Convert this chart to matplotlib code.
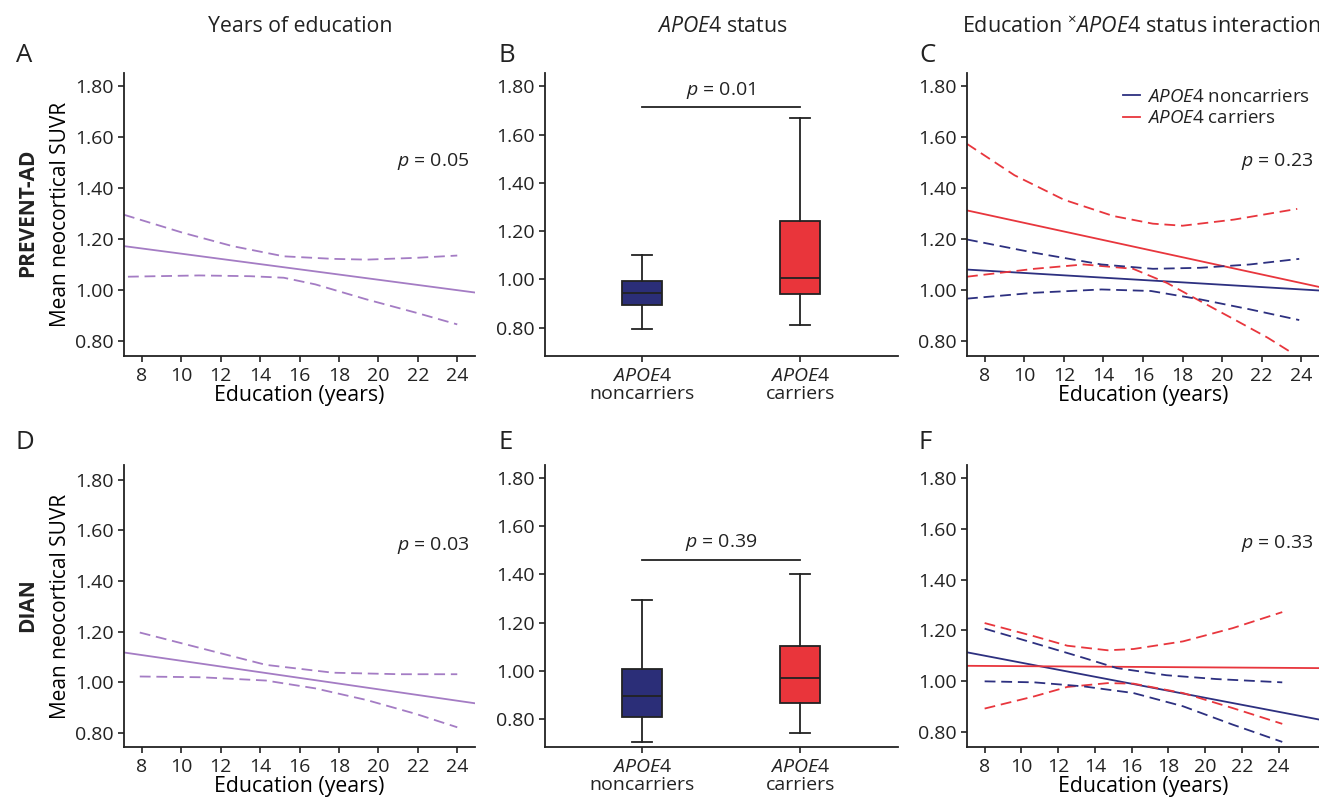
import matplotlib
matplotlib.use("Agg")
import matplotlib.pyplot as plt

plt.rcParams['font.family'] = ['Open Sans', 'DejaVu Sans']
plt.rcParams['mathtext.fontset'] = 'custom'
plt.rcParams['mathtext.rm'] = 'Open Sans'
plt.rcParams['mathtext.it'] = 'Open Sans:italic'
plt.rcParams['text.color'] = '#222222'
plt.rcParams['axes.edgecolor'] = '#222222'
plt.rcParams['xtick.color'] = '#222222'
plt.rcParams['ytick.color'] = '#222222'

PURPLE = '#a47cc4'
NAVY = '#2d3080'
RED = '#e8363d'
NAVY_FILL = '#2b2e78'
RED_FILL = '#e9353b'

# ---- data ----
groups = ['$\\mathit{APOE}$4\nnoncarriers', '$\\mathit{APOE}$4\ncarriers']
yticks = [0.80, 1.00, 1.20, 1.40, 1.60, 1.80]
xticks = [8, 10, 12, 14, 16, 18, 20, 22, 24]

# A: PREVENT-AD, education
a_fit_x = [7.1, 24.9]
a_fit_y = [1.172, 0.990]
a_hi_x = [7.1, 10.1, 12.6, 15.2, 17.7, 19.4, 21.9, 24.0]
a_hi_y = [1.295, 1.224, 1.172, 1.132, 1.122, 1.119, 1.126, 1.135]
a_lo_x = [7.3, 10.9, 13.5, 15.2, 16.8, 19.4, 21.9, 24.0]
a_lo_y = [1.052, 1.057, 1.054, 1.048, 1.022, 0.963, 0.911, 0.865]

# B: PREVENT-AD, APOE4 boxes (whislo, q1, med, q3, whishi)
b_non = [0.793, 0.894, 0.942, 0.994, 1.100]
b_car = [0.811, 0.939, 1.005, 1.243, 1.669]

# C: PREVENT-AD, interaction
c_non_fit_x = [7.1, 24.9]
c_non_fit_y = [1.080, 0.998]
c_car_fit_x = [7.1, 24.9]
c_car_fit_y = [1.312, 1.012]
c_car_hi_x = [7.1, 9.5, 12.0, 14.5, 16.5, 18.0, 20.6, 23.8]
c_car_hi_y = [1.573, 1.450, 1.354, 1.290, 1.260, 1.252, 1.276, 1.318]
c_car_lo_x = [7.1, 10.5, 13.0, 15.5, 17.2, 18.9, 20.6, 22.3, 23.6]
c_car_lo_y = [1.052, 1.083, 1.100, 1.083, 1.028, 0.956, 0.885, 0.813, 0.750]
c_non_hi_x = [7.1, 10.5, 13.9, 16.5, 18.9, 21.4, 23.9]
c_non_hi_y = [1.198, 1.146, 1.100, 1.083, 1.087, 1.100, 1.122]
c_non_lo_x = [7.1, 10.5, 13.9, 16.4, 18.9, 21.4, 23.9]
c_non_lo_y = [0.966, 0.989, 1.002, 0.996, 0.963, 0.924, 0.882]

# D: DIAN, education
d_fit_x = [7.1, 24.9]
d_fit_y = [1.117, 0.916]
d_hi_x = [7.9, 11.0, 14.3, 17.7, 21.1, 24.0]
d_hi_y = [1.196, 1.134, 1.068, 1.037, 1.031, 1.031]
d_lo_x = [7.9, 11.0, 14.3, 16.8, 19.4, 21.9, 24.0]
d_lo_y = [1.022, 1.019, 1.006, 0.975, 0.929, 0.874, 0.821]

# E: DIAN, APOE4 boxes
e_non = [0.705, 0.808, 0.894, 1.007, 1.292]
e_car = [0.742, 0.866, 0.970, 1.104, 1.400]

# F: DIAN, interaction
f_non_fit_x = [7.04, 26.2]
f_non_fit_y = [1.114, 0.850]
f_car_fit_x = [7.04, 26.2]
f_car_fit_y = [1.061, 1.052]
f_car_hi_x = [8.0, 10.7, 12.5, 14.7, 16.1, 18.8, 21.5, 24.2]
f_car_hi_y = [1.229, 1.177, 1.140, 1.122, 1.127, 1.157, 1.209, 1.272]
f_car_lo_x = [8.0, 10.7, 12.5, 14.7, 16.1, 18.8, 21.5, 24.2]
f_car_lo_y = [0.893, 0.941, 0.978, 0.993, 0.991, 0.954, 0.895, 0.833]
f_non_hi_x = [8.0, 10.7, 13.4, 15.2, 17.9, 20.6, 24.2]
f_non_hi_y = [1.207, 1.150, 1.092, 1.052, 1.024, 1.009, 0.996]
f_non_lo_x = [8.0, 10.7, 13.4, 16.1, 18.8, 21.5, 24.2]
f_non_lo_y = [1.000, 0.996, 0.980, 0.954, 0.902, 0.830, 0.762]

p_vals = {'A': '0.05', 'B': '0.01', 'C': '0.23', 'D': '0.03', 'E': '0.39', 'F': '0.33'}
bracket_y = {'B': 1.713, 'E': 1.461}

W, H = 1319, 799
fig = plt.figure(figsize=(W / 100, H / 100), dpi=100)


def px_axes(left, right, top, bottom):
    return fig.add_axes([left / W, 1 - bottom / H, (right - left) / W, (bottom - top) / H])


def style(ax, ylim):
    ax.spines['top'].set_visible(False)
    ax.spines['right'].set_visible(False)
    ax.spines['left'].set_linewidth(1.3)
    ax.spines['bottom'].set_linewidth(1.3)
    ax.set_ylim(*ylim)
    ax.set_yticks(yticks)
    ax.set_yticklabels(['%.2f' % v for v in yticks])
    ax.tick_params(labelsize=14, length=4.3, width=1.2, pad=3.3)


def dashed(ax, x, y, c):
    ax.plot(x, y, color=c, lw=1.3, dashes=(6, 3.2))


def box(ax, non, car):
    stats = []
    for s, lab in zip([non, car], groups):
        stats.append(dict(whislo=s[0], q1=s[1], med=s[2], q3=s[3], whishi=s[4], label=lab))
    bp = ax.bxp(stats, positions=[1, 2], widths=0.25, capwidths=0.13, showfliers=False,
                patch_artist=True,
                boxprops=dict(linewidth=1.3, edgecolor='#222222'),
                medianprops=dict(color='#222222', linewidth=1.3),
                whiskerprops=dict(color='#222222', linewidth=1.3),
                capprops=dict(color='#222222', linewidth=1.3))
    for patch, c in zip(bp['boxes'], [NAVY_FILL, RED_FILL]):
        patch.set_facecolor(c)
    ax.set_xlim(0.385, 2.62)


def bracket(ax, key):
    yb = bracket_y[key]
    ax.plot([1, 2], [yb, yb], color='#222222', lw=1.3)
    ax.text(1.5, yb + 0.07, '$\\mathit{p}$ = ' + p_vals[key], ha='center', va='center', fontsize=14)


def ptext(ax, val, yfrac):
    ax.text(0.983, yfrac, '$\\mathit{p}$ = ' + val, transform=ax.transAxes,
            ha='right', va='center', fontsize=14)


line_ylim = (0.741, 1.851)
box_ylim = (0.683, 1.855)

# ---- top row ----
axA = px_axes(124, 475, 73, 356)
axA.plot(a_fit_x, a_fit_y, color=PURPLE, lw=1.3)
dashed(axA, a_hi_x, a_hi_y, PURPLE)
dashed(axA, a_lo_x, a_lo_y, PURPLE)
axA.set_xlim(7.1, 24.9)
axA.set_xticks(xticks)
style(axA, line_ylim)
axA.set_xlabel('Education (years)', fontsize=15.3, labelpad=0)
axA.set_ylabel('Mean neocortical SUVR', fontsize=15, labelpad=3)
ptext(axA, p_vals['A'], 0.689)

axB = px_axes(545, 898, 73, 356)
box(axB, b_non, b_car)
style(axB, box_ylim)
for t in axB.get_xticklabels():
    t.set_linespacing(1.0)
bracket(axB, 'B')

axC = px_axes(967, 1319, 73, 356)
axC.plot(c_non_fit_x, c_non_fit_y, color=NAVY, lw=1.3, label='$\\mathit{APOE}$4 noncarriers')
axC.plot(c_car_fit_x, c_car_fit_y, color=RED, lw=1.3, label='$\\mathit{APOE}$4 carriers')
dashed(axC, c_car_hi_x, c_car_hi_y, RED)
dashed(axC, c_car_lo_x, c_car_lo_y, RED)
dashed(axC, c_non_hi_x, c_non_hi_y, NAVY)
dashed(axC, c_non_lo_x, c_non_lo_y, NAVY)
axC.set_xlim(7.1, 24.9)
axC.set_xticks(xticks)
style(axC, line_ylim)
axC.set_xlabel('Education (years)', fontsize=15.3, labelpad=0)
ptext(axC, p_vals['C'], 0.689)
axC.legend(loc='upper right', bbox_to_anchor=(0.995, 0.975), frameon=False, fontsize=13.5,
           handlelength=0.9, handletextpad=0.35, labelspacing=0.2, borderaxespad=0.2,
           borderpad=0.2)

# ---- bottom row ----
axD = px_axes(124, 475, 465, 747)
axD.plot(d_fit_x, d_fit_y, color=PURPLE, lw=1.3)
dashed(axD, d_hi_x, d_hi_y, PURPLE)
dashed(axD, d_lo_x, d_lo_y, PURPLE)
axD.set_xlim(7.1, 24.9)
axD.set_xticks(xticks)
style(axD, (0.743, 1.859))
axD.set_xlabel('Education (years)', fontsize=15.3, labelpad=0)
axD.set_ylabel('Mean neocortical SUVR', fontsize=15, labelpad=3)
ptext(axD, p_vals['D'], 0.716)

axE = px_axes(545, 898, 465, 747)
box(axE, e_non, e_car)
style(axE, box_ylim)
for t in axE.get_xticklabels():
    t.set_linespacing(1.0)
bracket(axE, 'E')

axF = px_axes(967, 1319, 465, 747)
axF.plot(f_non_fit_x, f_non_fit_y, color=NAVY, lw=1.3)
axF.plot(f_car_fit_x, f_car_fit_y, color=RED, lw=1.3)
dashed(axF, f_car_hi_x, f_car_hi_y, RED)
dashed(axF, f_car_lo_x, f_car_lo_y, RED)
dashed(axF, f_non_hi_x, f_non_hi_y, NAVY)
dashed(axF, f_non_lo_x, f_non_lo_y, NAVY)
axF.set_xlim(7.04, 26.2)
axF.set_xticks(xticks)
style(axF, (0.742, 1.85))
axF.set_xlabel('Education (years)', fontsize=15.3, labelpad=0)
ptext(axF, p_vals['F'], 0.723)

# ---- column titles, panel letters, row labels ----
fig.text(300 / W, 1 - 27 / H, 'Years of education', ha='center', va='center', fontsize=15.3)
fig.text(722 / W, 1 - 27 / H, '$\\mathit{APOE}$4 status', ha='center', va='center', fontsize=15.3)
fig.text(1141 / W, 1 - 27 / H, 'Education $^{\\times}$$\\mathit{APOE}$4 status interaction',
         ha='center', va='center', fontsize=15.5)

for letter, (lx, ly) in {'A': (16, 55), 'B': (499, 55), 'C': (919, 55),
                         'D': (16, 443), 'E': (499, 443), 'F': (919, 443)}.items():
    fig.text(lx / W, 1 - ly / H, letter, ha='left', va='center', fontsize=18.5)

fig.text(28 / W, 1 - 213 / H, 'PREVENT-AD', rotation=90, ha='center', va='center',
         fontsize=15, fontweight='bold')
fig.text(28 / W, 1 - 605 / H, 'DIAN', rotation=90, ha='center', va='center',
         fontsize=15, fontweight='bold')

fig.savefig('out.png', dpi=100)
